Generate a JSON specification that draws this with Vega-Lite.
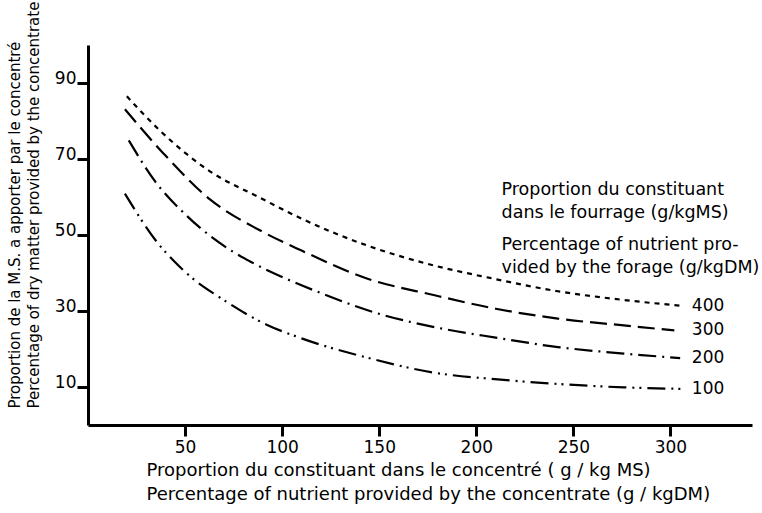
{
  "$schema": "https://vega.github.io/schema/vega-lite/v6.json",
  "width": 664,
  "height": 380,
  "autosize": {"type": "none"},
  "padding": {"left": 88, "top": 45, "right": 10, "bottom": 88},
  "background": "white",
  "config": {
    "view": {"stroke": null},
    "font": "DejaVu Sans",
    "axis": {
      "grid": false,
      "domainColor": "black",
      "domainWidth": 3,
      "tickColor": "black",
      "tickWidth": 3,
      "tickSize": 11,
      "labelColor": "black",
      "labelFont": "DejaVu Sans",
      "labelFontSize": 17,
      "titleColor": "black",
      "titleFont": "DejaVu Sans",
      "titleFontWeight": "normal"
    }
  },
  "data": {
    "values": [
      {"forage": "400", "conc": 20, "pct": 86.5},
      {"forage": "400", "conc": 37, "pct": 77.5},
      {"forage": "400", "conc": 63, "pct": 66.7},
      {"forage": "400", "conc": 89, "pct": 59.7},
      {"forage": "400", "conc": 110, "pct": 54.3},
      {"forage": "400", "conc": 144, "pct": 47.2},
      {"forage": "400", "conc": 178, "pct": 42.0},
      {"forage": "400", "conc": 207, "pct": 38.7},
      {"forage": "400", "conc": 242, "pct": 35.2},
      {"forage": "400", "conc": 276, "pct": 32.9},
      {"forage": "400", "conc": 305, "pct": 31.4},
      {"forage": "300", "conc": 19, "pct": 83.1},
      {"forage": "300", "conc": 39, "pct": 71.4},
      {"forage": "300", "conc": 63, "pct": 59.3},
      {"forage": "300", "conc": 89, "pct": 51.1},
      {"forage": "300", "conc": 110, "pct": 45.9},
      {"forage": "300", "conc": 144, "pct": 38.5},
      {"forage": "300", "conc": 178, "pct": 34.2},
      {"forage": "300", "conc": 210, "pct": 30.6},
      {"forage": "300", "conc": 242, "pct": 28.0},
      {"forage": "300", "conc": 276, "pct": 26.2},
      {"forage": "300", "conc": 302, "pct": 24.9},
      {"forage": "200", "conc": 21, "pct": 74.9},
      {"forage": "200", "conc": 34, "pct": 64.5},
      {"forage": "200", "conc": 51, "pct": 55.0},
      {"forage": "200", "conc": 75, "pct": 45.5},
      {"forage": "200", "conc": 84, "pct": 42.9},
      {"forage": "200", "conc": 102, "pct": 38.5},
      {"forage": "200", "conc": 118, "pct": 35.1},
      {"forage": "200", "conc": 149, "pct": 29.4},
      {"forage": "200", "conc": 181, "pct": 25.5},
      {"forage": "200", "conc": 210, "pct": 23.0},
      {"forage": "200", "conc": 242, "pct": 20.5},
      {"forage": "200", "conc": 276, "pct": 18.8},
      {"forage": "200", "conc": 305, "pct": 17.6},
      {"forage": "100", "conc": 19, "pct": 60.9},
      {"forage": "100", "conc": 37, "pct": 47.2},
      {"forage": "100", "conc": 44, "pct": 43.3},
      {"forage": "100", "conc": 56, "pct": 37.7},
      {"forage": "100", "conc": 66, "pct": 34.2},
      {"forage": "100", "conc": 92, "pct": 26.4},
      {"forage": "100", "conc": 110, "pct": 22.8},
      {"forage": "100", "conc": 144, "pct": 17.7},
      {"forage": "100", "conc": 178, "pct": 13.8},
      {"forage": "100", "conc": 211, "pct": 12.0},
      {"forage": "100", "conc": 242, "pct": 10.8},
      {"forage": "100", "conc": 276, "pct": 9.9},
      {"forage": "100", "conc": 307, "pct": 9.5}
    ]
  },
  "layer": [
    {
      "mark": {"type": "line", "color": "black", "strokeWidth": 2.2, "interpolate": "monotone"},
      "encoding": {
        "x": {
          "field": "conc", "type": "quantitative",
          "scale": {"domain": [0, 342], "nice": false, "zero": false},
          "axis": {
            "values": [50, 100, 150, 200, 250, 300],
            "labelPadding": 3,
            "title": ["Proportion du constituant dans le concentré ( g / kg MS)", "Percentage of nutrient provided by the concentrate (g / kgDM)"],
            "titleFontSize": 18,
            "titleAlign": "left",
            "titleAnchor": null,
            "titleX": 58,
            "titleY": 50,
            "titleBaseline": "alphabetic",
            "titleLineHeight": 24
          }
        },
        "y": {
          "field": "pct", "type": "quantitative",
          "scale": {"domain": [0, 100], "nice": false},
          "axis": {
            "values": [10, 30, 50, 70, 90],
            "labelBaseline": "alphabetic",
            "labelPadding": 1,
            "title": ["Proportion de la M.S. a apporter par le concentré", "Percentage of dry matter provided by the concentrate"],
            "titleFontSize": 15,
            "titleAngle": -90,
            "titleAlign": "left",
            "titleX": -74,
            "titleY": 363,
            "titleBaseline": "middle",
            "titleLineHeight": 19
          }
        },
        "detail": {"field": "forage"},
        "strokeDash": {
          "field": "forage", "type": "nominal",
          "scale": {
            "domain": ["400", "300", "200", "100"],
            "range": [[5, 5], [17, 7], [18, 6, 2, 6], [18, 6, 2, 5, 2, 6]]
          },
          "legend": null
        },
        "order": {"field": "conc", "type": "quantitative"}
      }
    },
    {
      "transform": [{"filter": "datum.conc >= 300"}],
      "mark": {"type": "text", "align": "left", "baseline": "middle", "fontSize": 17, "font": "DejaVu Sans", "color": "black"},
      "encoding": {
        "x": {"datum": 311},
        "y": {"field": "pct", "type": "quantitative"},
        "text": {"field": "forage"}
      }
    },
    {
      "data": {"values": [{}]},
      "mark": {"type": "text", "align": "left", "baseline": "middle", "fontSize": 17.5, "font": "DejaVu Sans", "color": "black", "lineHeight": 23, "text": ["Proportion du constituant", "dans le fourrage (g/kgMS)"]},
      "encoding": {
        "x": {"datum": 213},
        "y": {"datum": 61.8}
      }
    },
    {
      "data": {"values": [{}]},
      "mark": {"type": "text", "align": "left", "baseline": "middle", "fontSize": 17.5, "font": "DejaVu Sans", "color": "black", "lineHeight": 23, "text": ["Percentage of nutrient pro-", "vided by the forage (g/kgDM)"]},
      "encoding": {
        "x": {"datum": 213},
        "y": {"datum": 47.3}
      }
    }
  ]
}
